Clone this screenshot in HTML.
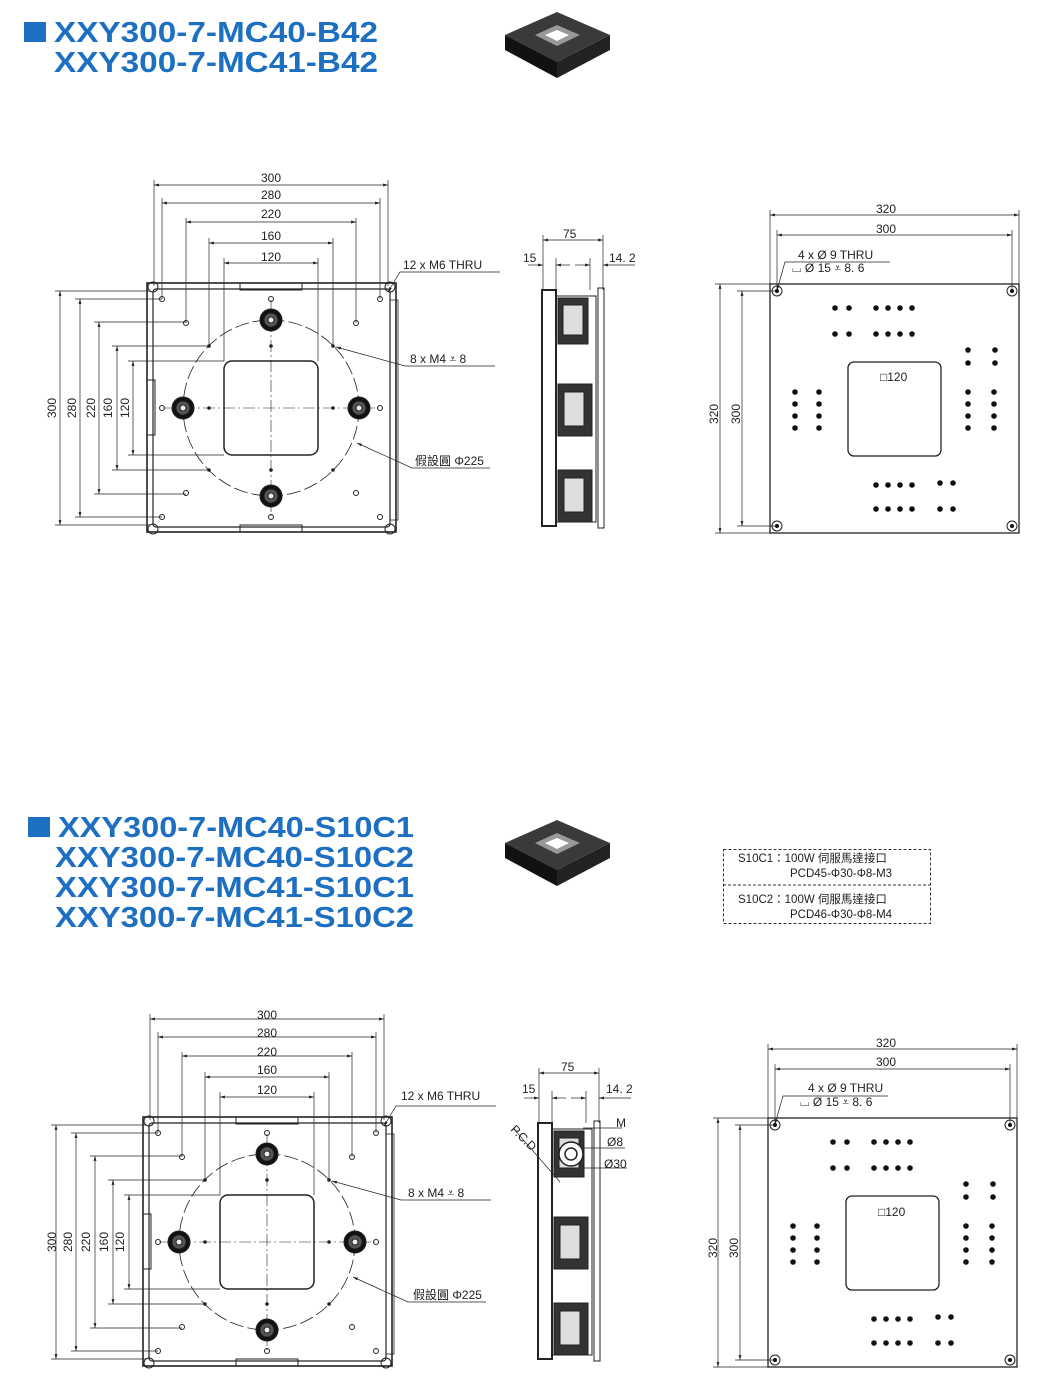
<!DOCTYPE html>
<html><head><meta charset="utf-8"><style>
body{margin:0;background:#fff;}
svg{display:block;font-family:"Liberation Sans","Noto Sans CJK TC",sans-serif;}
.t{font-size:12px;fill:#222}
.h{font-family:"Liberation Sans",sans-serif;font-weight:bold;font-size:29px;fill:#1d6fc2}
</style></head><body>
<svg width="1046" height="1393" viewBox="0 0 1046 1393" xmlns="http://www.w3.org/2000/svg">
<defs>
<marker id="a" viewBox="0 0 10 10" refX="10" refY="5" markerWidth="7" markerHeight="7" orient="auto-start-reverse"><path d="M0,2 L10,5 L0,8z" fill="#222"/></marker>
<g id="cube">
<polygon points="505,35 557,12 610,35 557,62" fill="#3a3a3a"/>
<polygon points="505,35 557,62 557,78 505,50" fill="#111"/>
<polygon points="610,35 557,62 557,78 610,50" fill="#222"/>
<polygon points="535,35 557,25 580,35 557,46" fill="#999"/>
<polygon points="545,35 557,30 569,35 557,41" fill="#fff"/>
</g>
<g id="dot4"><circle cx="0" cy="0" r="2.8"/><circle cx="12" cy="0" r="2.8"/><circle cx="24" cy="0" r="2.8"/><circle cx="36" cy="0" r="2.8"/></g>
<g id="knob"><circle r="11" fill="#111"/><circle r="7" fill="#555"/><circle r="3" fill="#eee"/></g>
<g id="lv" stroke="#222" fill="none">
<g stroke-width="0.7">
<line x1="154" y1="180" x2="154" y2="286"/><line x1="388" y1="180" x2="388" y2="286"/>
<line x1="162" y1="198" x2="162" y2="299"/><line x1="380" y1="198" x2="380" y2="299"/>
<line x1="186" y1="218" x2="186" y2="323"/><line x1="356" y1="218" x2="356" y2="323"/>
<line x1="209" y1="238" x2="209" y2="346"/><line x1="333" y1="238" x2="333" y2="346"/>
<line x1="224" y1="258" x2="224" y2="361"/><line x1="318" y1="258" x2="318" y2="361"/>
<line x1="154" y1="185" x2="388" y2="185" marker-start="url(#a)" marker-end="url(#a)"/>
<line x1="162" y1="203" x2="380" y2="203" marker-start="url(#a)" marker-end="url(#a)"/>
<line x1="186" y1="222" x2="356" y2="222" marker-start="url(#a)" marker-end="url(#a)"/>
<line x1="209" y1="243" x2="333" y2="243" marker-start="url(#a)" marker-end="url(#a)"/>
<line x1="224" y1="263" x2="318" y2="263" marker-start="url(#a)" marker-end="url(#a)"/>
<line x1="55" y1="291" x2="150" y2="291"/><line x1="55" y1="525" x2="150" y2="525"/>
<line x1="75" y1="299" x2="162" y2="299"/><line x1="75" y1="517" x2="162" y2="517"/>
<line x1="94" y1="322" x2="186" y2="322"/><line x1="94" y1="494" x2="186" y2="494"/>
<line x1="112" y1="346" x2="209" y2="346"/><line x1="112" y1="470" x2="209" y2="470"/>
<line x1="128" y1="361" x2="224" y2="361"/><line x1="128" y1="455" x2="224" y2="455"/>
<line x1="60" y1="291" x2="60" y2="525" marker-start="url(#a)" marker-end="url(#a)"/>
<line x1="80" y1="299" x2="80" y2="517" marker-start="url(#a)" marker-end="url(#a)"/>
<line x1="99" y1="322" x2="99" y2="494" marker-start="url(#a)" marker-end="url(#a)"/>
<line x1="117" y1="346" x2="117" y2="470" marker-start="url(#a)" marker-end="url(#a)"/>
<line x1="133" y1="361" x2="133" y2="455" marker-start="url(#a)" marker-end="url(#a)"/>
<polyline points="388,292 400,272 500,272" marker-start="url(#a)"/>
<polyline points="336,347 405,366 495,366" marker-start="url(#a)"/>
<polyline points="357,443 412,468 490,468" marker-start="url(#a)"/>
</g>
<rect x="147" y="283" width="249" height="249" stroke-width="1.6"/>
<rect x="153" y="289" width="237" height="238" rx="3" stroke-width="1.2"/>
<rect x="240" y="283" width="62" height="7" stroke-width="1"/>
<rect x="240" y="525" width="62" height="7" stroke-width="1"/>
<rect x="147" y="380" width="8" height="55" stroke-width="1"/>
<rect x="390" y="300" width="8" height="220" stroke-width="0.8"/>
<circle cx="271" cy="408" r="88" stroke-width="0.8" stroke-dasharray="14 4"/>
<line x1="271" y1="300" x2="271" y2="516" stroke-width="0.6" stroke-dasharray="12 3 2 3"/>
<line x1="163" y1="408" x2="379" y2="408" stroke-width="0.6" stroke-dasharray="12 3 2 3"/>
<rect x="224" y="361" width="94" height="94" rx="8" stroke-width="1.5"/>
<g stroke-width="1"><circle cx="153" cy="287" r="5"/><circle cx="390" cy="287" r="5"/><circle cx="153" cy="529" r="5"/><circle cx="390" cy="529" r="5"/>
<circle cx="162" cy="299" r="2.5"/><circle cx="380" cy="299" r="2.5"/><circle cx="162" cy="517" r="2.5"/><circle cx="380" cy="517" r="2.5"/>
<circle cx="271" cy="299" r="2.5"/><circle cx="271" cy="517" r="2.5"/><circle cx="162" cy="408" r="2.5"/><circle cx="380" cy="408" r="2.5"/>
<circle cx="186" cy="323" r="2.5"/><circle cx="356" cy="323" r="2.5"/><circle cx="186" cy="493" r="2.5"/><circle cx="356" cy="493" r="2.5"/></g>
<g fill="#222" stroke="none"><circle cx="209" cy="346" r="1.8"/><circle cx="333" cy="346" r="1.8"/><circle cx="209" cy="470" r="1.8"/><circle cx="333" cy="470" r="1.8"/>
<circle cx="271" cy="346" r="1.8"/><circle cx="271" cy="470" r="1.8"/><circle cx="209" cy="408" r="1.8"/><circle cx="333" cy="408" r="1.8"/></g>
<use href="#knob" x="271" y="320"/><use href="#knob" x="183" y="408"/><use href="#knob" x="359" y="408"/><use href="#knob" x="271" y="496"/>
</g>
<g id="sv" stroke="#222" fill="none">
<g stroke-width="0.7">
<line x1="543" y1="235" x2="543" y2="290"/><line x1="603" y1="235" x2="603" y2="290"/><line x1="556" y1="258" x2="556" y2="295"/><line x1="590" y1="258" x2="590" y2="290"/>
<line x1="543" y1="240" x2="603" y2="240" marker-start="url(#a)" marker-end="url(#a)"/>
<line x1="528" y1="265" x2="543" y2="265" marker-end="url(#a)"/><line x1="570" y1="265" x2="556" y2="265" marker-end="url(#a)"/>
<line x1="575" y1="265" x2="590" y2="265" marker-end="url(#a)"/><line x1="635" y1="265" x2="603" y2="265" marker-end="url(#a)"/>
</g>
<rect x="542" y="290" width="14" height="236" stroke-width="2"/>
<rect x="556" y="296" width="40" height="226" stroke-width="1"/>
<rect x="598" y="288" width="6" height="240" stroke-width="1"/>
<rect x="558" y="298" width="30" height="46" fill="#333"/><rect x="563" y="305" width="20" height="30" fill="#ddd"/>
<rect x="558" y="384" width="34" height="52" fill="#333"/><rect x="564" y="392" width="20" height="34" fill="#ddd"/>
<rect x="558" y="470" width="34" height="52" fill="#333"/><rect x="564" y="478" width="20" height="34" fill="#ddd"/>
</g>
<g id="rv" stroke="#222" fill="none">
<g stroke-width="0.7">
<line x1="770" y1="210" x2="770" y2="284"/><line x1="1019" y1="210" x2="1019" y2="284"/>
<line x1="777" y1="230" x2="777" y2="291"/><line x1="1012" y1="230" x2="1012" y2="291"/>
<line x1="770" y1="215" x2="1019" y2="215" marker-start="url(#a)" marker-end="url(#a)"/>
<line x1="777" y1="235" x2="1012" y2="235" marker-start="url(#a)" marker-end="url(#a)"/>
<line x1="715" y1="284" x2="770" y2="284"/><line x1="715" y1="533" x2="770" y2="533"/>
<line x1="737" y1="291" x2="777" y2="291"/><line x1="737" y1="526" x2="777" y2="526"/>
<line x1="720" y1="284" x2="720" y2="533" marker-start="url(#a)" marker-end="url(#a)"/>
<line x1="742" y1="291" x2="742" y2="526" marker-start="url(#a)" marker-end="url(#a)"/>
<polyline points="777,290 785,262 890,262" marker-start="url(#a)"/>
</g>
<rect x="770" y="284" width="249" height="249" stroke-width="1.3"/>
<rect x="848" y="362" width="93" height="94" rx="6" stroke-width="1.3"/>
<g stroke-width="1"><circle cx="777" cy="291" r="5"/><circle cx="1012" cy="291" r="5"/><circle cx="777" cy="526" r="5"/><circle cx="1012" cy="526" r="5"/></g>
<g fill="#111" stroke="none">
<circle cx="777" cy="291" r="2"/><circle cx="1012" cy="291" r="2"/><circle cx="777" cy="526" r="2"/><circle cx="1012" cy="526" r="2"/>
<circle cx="835" cy="308" r="2.8"/><circle cx="849" cy="308" r="2.8"/><circle cx="835" cy="334" r="2.8"/><circle cx="849" cy="334" r="2.8"/>
<use href="#dot4" x="876" y="308"/><use href="#dot4" x="876" y="334"/>
<use href="#dot4" x="876" y="485"/><use href="#dot4" x="876" y="509"/>
<circle cx="940" cy="483" r="2.8"/><circle cx="953" cy="483" r="2.8"/><circle cx="940" cy="509" r="2.8"/><circle cx="953" cy="509" r="2.8"/>
<circle cx="968" cy="350" r="2.8"/><circle cx="995" cy="350" r="2.8"/><circle cx="968" cy="363" r="2.8"/><circle cx="995" cy="363" r="2.8"/>
<use href="#dot4" transform="translate(795,392) rotate(90)"/><use href="#dot4" transform="translate(819,392) rotate(90)"/>
<use href="#dot4" transform="translate(968,392) rotate(90)"/><use href="#dot4" transform="translate(994,392) rotate(90)"/>
</g>
</g>
</defs>

<rect x="24" y="22" width="22" height="20" fill="#1d6fc2"/>
<text class="h" x="54" y="42" textLength="324" lengthAdjust="spacingAndGlyphs">XXY300-7-MC40-B42</text>
<text class="h" x="54" y="72" textLength="324" lengthAdjust="spacingAndGlyphs">XXY300-7-MC41-B42</text>
<use href="#cube"/>
<use href="#lv"/>
<use href="#sv"/>
<use href="#rv"/>
<g class="t">
<text x="261" y="182">300</text><text x="261" y="199">280</text><text x="261" y="218">220</text><text x="261" y="240">160</text><text x="261" y="261">120</text>
<text transform="translate(56,418) rotate(-90)">300</text><text transform="translate(76,418) rotate(-90)">280</text><text transform="translate(95,418) rotate(-90)">220</text><text transform="translate(112,418) rotate(-90)">160</text><text transform="translate(129,418) rotate(-90)">120</text>
<text x="403" y="269">12 x  M6  THRU</text>
<text x="410" y="363">8 x  M4 ⩡ 8</text>
<text x="415" y="465">假設圓 Φ225</text>
<text x="563" y="238">75</text><text x="523" y="262">15</text><text x="609" y="262">14. 2</text>
<text x="876" y="213">320</text><text x="876" y="233">300</text>
<text x="798" y="259">4  x  Ø  9  THRU</text>
<text x="792" y="272">⌴  Ø  15  ⩡  8. 6</text>
<text x="880" y="381">□120</text>
<text transform="translate(718,424) rotate(-90)">320</text><text transform="translate(740,424) rotate(-90)">300</text>
</g>

<rect x="28" y="817" width="22" height="20" fill="#1d6fc2"/>
<text class="h" x="58" y="837" textLength="356" lengthAdjust="spacingAndGlyphs">XXY300-7-MC40-S10C1</text>
<text class="h" x="55" y="867" textLength="359" lengthAdjust="spacingAndGlyphs">XXY300-7-MC40-S10C2</text>
<text class="h" x="55" y="897" textLength="359" lengthAdjust="spacingAndGlyphs">XXY300-7-MC41-S10C1</text>
<text class="h" x="55" y="927" textLength="359" lengthAdjust="spacingAndGlyphs">XXY300-7-MC41-S10C2</text>
<use href="#cube" transform="translate(0,808)"/>
<rect x="723.5" y="849.5" width="207" height="74" fill="none" stroke="#333" stroke-dasharray="3 2"/>
<line x1="723" y1="885" x2="930" y2="885" stroke="#333" stroke-dasharray="3 2"/>
<g class="t" style="font-size:11.5px">
<text x="738" y="862">S10C1：100W 伺服馬達接口</text>
<text x="790" y="877">PCD45-Φ30-Φ8-M3</text>
<text x="738" y="903">S10C2：100W 伺服馬達接口</text>
<text x="790" y="918">PCD46-Φ30-Φ8-M4</text>
</g>
<use href="#lv" transform="translate(-4,834)"/>
<use href="#sv" transform="translate(-4,833)"/>
<use href="#rv" transform="translate(-2,834)"/>
<g stroke="#222" fill="none" stroke-width="0.7">
<circle cx="571" cy="1154" r="12" fill="#fff" stroke-width="1.5"/><circle cx="571" cy="1154" r="6" stroke-width="1.5"/>
<line x1="513" y1="1128" x2="560" y2="1182"/>
<polyline points="583,1128 596,1128 622,1128"/><polyline points="583,1148 600,1148 625,1148"/><polyline points="583,1168 600,1168 627,1168"/>
</g>
<g class="t">
<text x="257" y="1019">300</text><text x="257" y="1037">280</text><text x="257" y="1056">220</text><text x="257" y="1074">160</text><text x="257" y="1094">120</text>
<text transform="translate(56,1252) rotate(-90)">300</text><text transform="translate(72,1252) rotate(-90)">280</text><text transform="translate(90,1252) rotate(-90)">220</text><text transform="translate(108,1252) rotate(-90)">160</text><text transform="translate(124,1252) rotate(-90)">120</text>
<text x="401" y="1100">12 x  M6  THRU</text>
<text x="408" y="1197">8 x  M4 ⩡ 8</text>
<text x="413" y="1299">假設圓 Φ225</text>
<text x="561" y="1071">75</text><text x="522" y="1093">15</text><text x="606" y="1093">14. 2</text>
<text transform="translate(510,1130) rotate(45)">P.C.D</text>
<text x="616" y="1127">M</text><text x="607" y="1146">Ø8</text><text x="604" y="1168">Ø30</text>
<text x="876" y="1047">320</text><text x="876" y="1066">300</text>
<text x="808" y="1092">4  x  Ø  9  THRU</text>
<text x="800" y="1106">⌴  Ø  15  ⩡  8. 6</text>
<text x="878" y="1216">□120</text>
<text transform="translate(717,1258) rotate(-90)">320</text><text transform="translate(738,1258) rotate(-90)">300</text>
</g>
</svg>
</body></html>
